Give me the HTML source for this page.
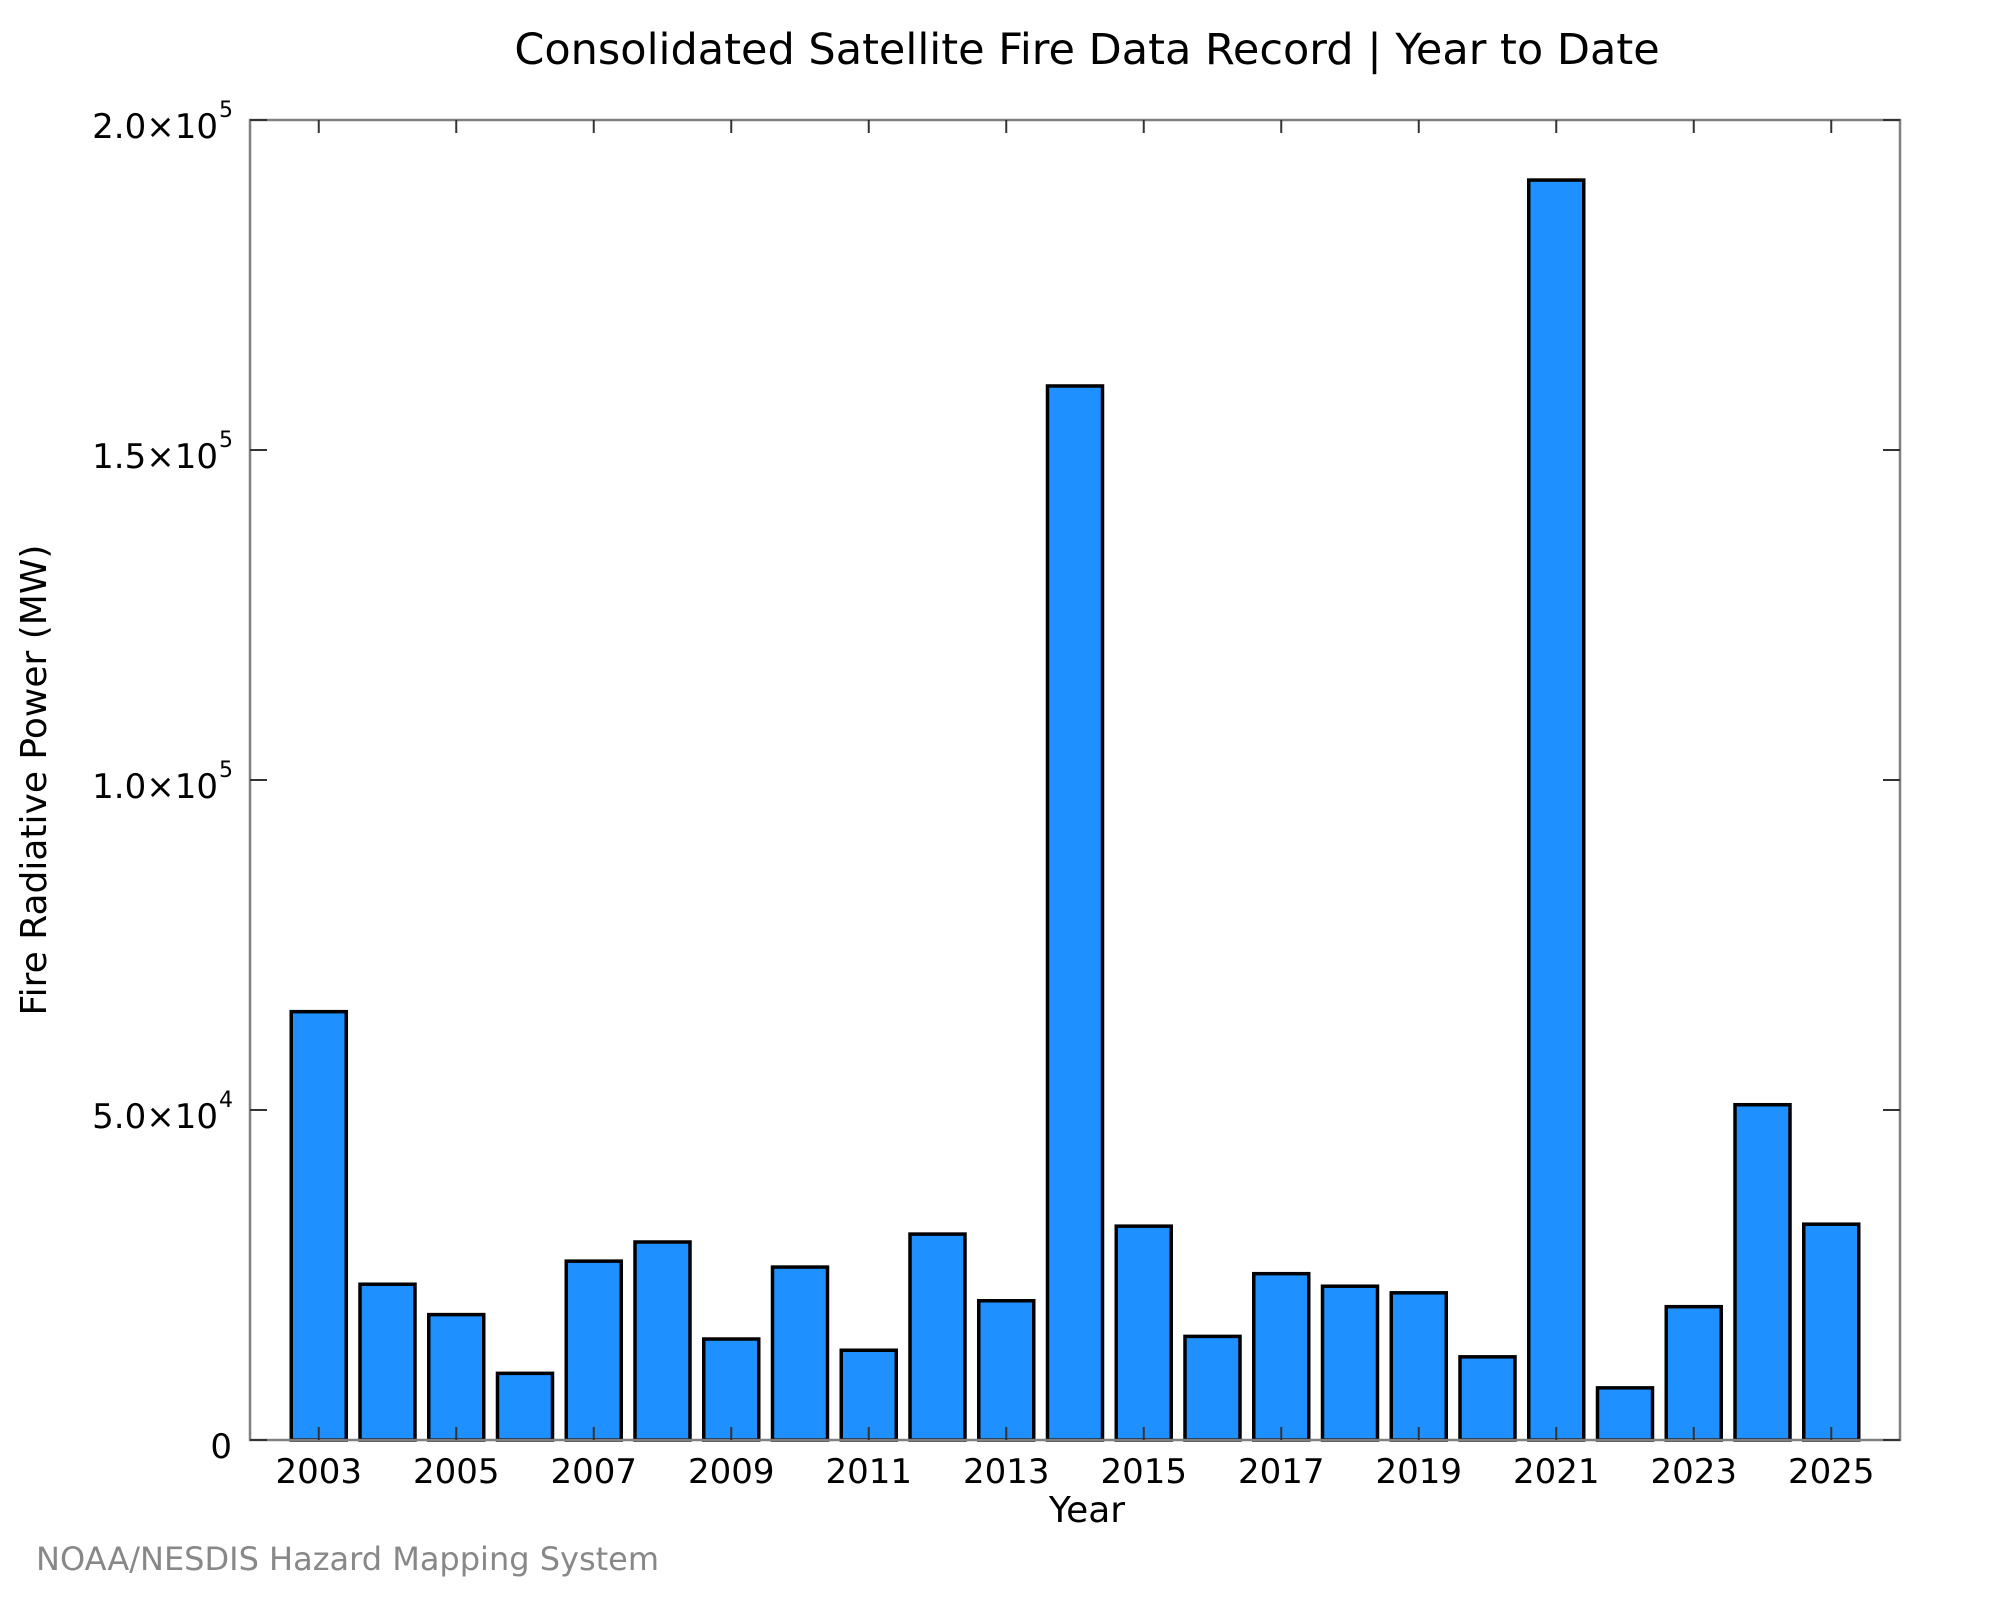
<!DOCTYPE html>
<html><head><meta charset="utf-8"><style>
html,body{margin:0;padding:0;background:#fff;}
svg text{font-family:"DejaVu Sans","Liberation Sans",sans-serif;}
</style></head><body>
<svg id="chart" width="2000" height="1600" viewBox="0 0 2000 1600" xmlns="http://www.w3.org/2000/svg">
<rect width="2000" height="1600" fill="#fff"/>
<text x="1087" y="64" font-size="43" text-anchor="middle" fill="#000">Consolidated Satellite Fire Data Record | Year to Date</text>
<g id="bars"></g>
<rect x="250" y="120" width="1650" height="1320" fill="none" stroke="#808080" stroke-width="2.5"/>
<g id="ticks"></g>
<text x="1087" y="1522" font-size="36" text-anchor="middle" fill="#000">Year</text>
<text transform="translate(46,780) rotate(-90)" font-size="36" text-anchor="middle" fill="#000">Fire Radiative Power (MW)</text>
<text x="36" y="1570" font-size="32" fill="#888">NOAA/NESDIS Hazard Mapping System</text>
</svg>
<script>
const years = [2003,2004,2005,2006,2007,2008,2009,2010,2011,2012,2013,2014,2015,2016,2017,2018,2019,2020,2021,2022,2023,2024,2025];
const values = [64900,23600,19000,10100,27100,30000,15300,26200,13600,31200,21100,159700,32400,15700,25200,23300,22300,12600,190900,7900,20200,50800,32700];
const xTickYears = [2003,2005,2007,2009,2011,2013,2015,2017,2019,2021,2023,2025];
const yTicks = [0,50000,100000,150000,200000];
const yTickMant = ["0","5.0","1.0","1.5","2.0"];
const yTickExp = ["","4","5","5","5"];

const L=250,R=1900,T=120,B=1440;
const xMin=2002,xMax=2026,yMax=200000;
const NS="http://www.w3.org/2000/svg";
function xs(v){return L+(v-xMin)/(xMax-xMin)*(R-L);}
function ys(v){return B-v/yMax*(B-T);}
const bw=(xs(1)-xs(0))*0.8;
const gb=document.getElementById('bars');
years.forEach((yr,i)=>{
  const r=document.createElementNS(NS,'rect');
  
  
  r.setAttribute('x',xs(yr)-bw/2);
  r.setAttribute('y',ys(values[i]));
  r.setAttribute('width',bw);
  r.setAttribute('height',ys(0)-ys(values[i]));
  r.setAttribute('fill','#1e90ff');
  r.setAttribute('stroke','#000');
  r.setAttribute('stroke-width','3.5');
  gb.appendChild(r);
});
const gt=document.getElementById('ticks');
function line(x1,y1,x2,y2){
  const l=document.createElementNS(NS,'line');
  
  
  l.setAttribute('x1',x1);l.setAttribute('y1',y1);l.setAttribute('x2',x2);l.setAttribute('y2',y2);
  l.setAttribute('stroke','#333');l.setAttribute('stroke-width','2');
  gt.appendChild(l);
}
xTickYears.forEach(yr=>{
  const x=xs(yr);
  line(x,B,x,B-13);line(x,T,x,T+13);
  const t=document.createElementNS(NS,'text');
  
  
  t.setAttribute('x',x);t.setAttribute('y',B+43);
  t.setAttribute('font-size','34');t.setAttribute('text-anchor','middle');
  t.textContent=yr;
  gt.appendChild(t);
});
yTicks.forEach((v,i)=>{
  const y=ys(v);
  line(L,y,L+17,y);line(R,y,R-17,y);
  const t=document.createElementNS(NS,'text');
  
  
  t.setAttribute('x',yTickExp[i]?218:232);t.setAttribute('y',y+18);
  t.setAttribute('font-size','34');t.setAttribute('text-anchor','end');
  t.textContent=yTickExp[i]?yTickMant[i]+'\u00d710':yTickMant[i];
  gt.appendChild(t);
  if(yTickExp[i]){
    const s=document.createElementNS(NS,'text');
    
    
    s.setAttribute('x',219);s.setAttribute('y',y-3);
    s.setAttribute('font-size','22');
    s.textContent=yTickExp[i];
    gt.appendChild(s);
  }
});
</script>
</body></html>
